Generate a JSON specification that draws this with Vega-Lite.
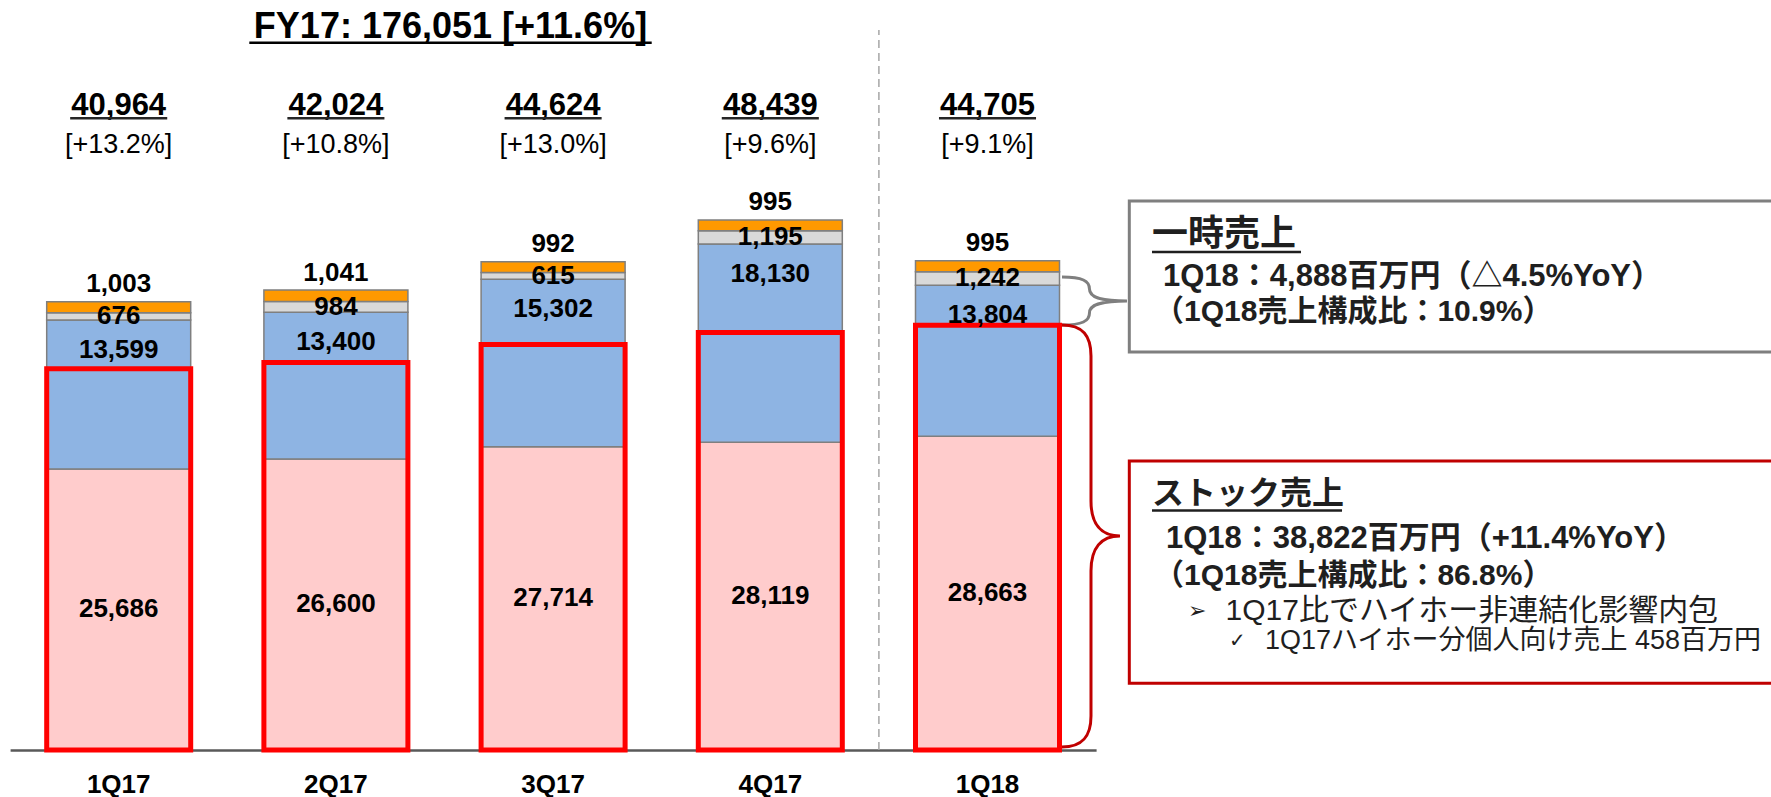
{
  "$schema": "https://vega.github.io/schema/vega-lite/v6.json",
  "width": 1771,
  "height": 750,
  "autosize": {"type": "none"},
  "padding": {"left": 0, "top": 0, "right": 0, "bottom": 47},
  "background": "#FFFFFF",
  "config": {"view": {"stroke": null}},
  "datasets": {
    "segments": [
      {"quarter": "1Q17", "seg": "seg1", "value": 25686},
      {"quarter": "1Q17", "seg": "seg2", "value": 13599},
      {"quarter": "1Q17", "seg": "seg3", "value": 676},
      {"quarter": "1Q17", "seg": "seg4", "value": 1003},
      {"quarter": "2Q17", "seg": "seg1", "value": 26600},
      {"quarter": "2Q17", "seg": "seg2", "value": 13400},
      {"quarter": "2Q17", "seg": "seg3", "value": 984},
      {"quarter": "2Q17", "seg": "seg4", "value": 1041},
      {"quarter": "3Q17", "seg": "seg1", "value": 27714},
      {"quarter": "3Q17", "seg": "seg2", "value": 15302},
      {"quarter": "3Q17", "seg": "seg3", "value": 615},
      {"quarter": "3Q17", "seg": "seg4", "value": 992},
      {"quarter": "4Q17", "seg": "seg1", "value": 28119},
      {"quarter": "4Q17", "seg": "seg2", "value": 18130},
      {"quarter": "4Q17", "seg": "seg3", "value": 1195},
      {"quarter": "4Q17", "seg": "seg4", "value": 995},
      {"quarter": "1Q18", "seg": "seg1", "value": 28663},
      {"quarter": "1Q18", "seg": "seg2", "value": 13804},
      {"quarter": "1Q18", "seg": "seg3", "value": 1242},
      {"quarter": "1Q18", "seg": "seg4", "value": 995}
    ],
    "totals": [
      {"quarter": "1Q17", "total": 40964, "yoy": "[+13.2%]", "stock": 34849},
      {"quarter": "2Q17", "total": 42024, "yoy": "[+10.8%]", "stock": 35400},
      {"quarter": "3Q17", "total": 44624, "yoy": "[+13.0%]", "stock": 37055},
      {"quarter": "4Q17", "total": 48439, "yoy": "[+9.6%]", "stock": 38150},
      {"quarter": "1Q18", "total": 44705, "yoy": "[+9.1%]", "stock": 38822}
    ]
  },
  "layer": [
    {
      "layer": [
        {
          "data": {"name": "segments"},
          "transform": [{"stack": "value", "groupby": ["quarter"], "sort": [{"field": "seg", "order": "ascending"}], "as": ["v0", "v1"]}],
          "mark": {"type": "bar", "stroke": "#7F7F7F", "strokeWidth": 1.5},
          "encoding": {
            "x": {
              "field": "quarter", "type": "nominal", "sort": null,
              "scale": {"type": "band", "domain": ["1Q17", "2Q17", "3Q17", "4Q17", "1Q18"], "range": [10.1, 1096.1], "paddingInner": 0.337, "paddingOuter": 0.1685},
              "axis": {"title": null, "ticks": false, "tickSize": 0, "grid": false, "domainColor": "#595959", "domainWidth": 2.5, "labelFont": "Liberation Sans", "labelFontWeight": "bold", "labelFontSize": 26, "labelColor": "#000000", "labelPadding": 34, "labelBaseline": "middle", "labelAngle": 0}
            },
            "y": {"field": "v0", "type": "quantitative", "scale": {"domain": [0, 68535], "nice": false, "zero": false}, "axis": null},
            "y2": {"field": "v1"},
            "color": {"field": "seg", "type": "nominal", "scale": {"domain": ["seg1", "seg2", "seg3", "seg4"], "range": ["#FFCCCC", "#8EB4E3", "#D9D9D9", "#FF9900"]}, "legend": null}
          }
        },
        {
          "data": {"name": "totals"},
          "mark": {"type": "bar", "fill": "#FFFFFF", "fillOpacity": 0, "stroke": "#FF0000", "strokeWidth": 5},
          "encoding": {
            "x": {"field": "quarter", "type": "nominal", "sort": null},
            "y": {"field": "stock", "type": "quantitative", "axis": null}
          }
        },
        {
          "data": {"name": "segments"},
          "mark": {"type": "text", "font": "Liberation Sans", "fontWeight": "bold", "fontSize": 26, "baseline": "middle", "align": "center", "color": "#000000"},
          "encoding": {
            "x": {"field": "quarter", "type": "nominal", "sort": null},
            "y": {"field": "value", "type": "quantitative", "stack": "zero", "bandPosition": 0.5, "axis": null},
            "detail": {"field": "seg", "type": "nominal"},
            "order": {"field": "seg", "sort": "ascending"},
            "text": {"field": "value", "type": "quantitative", "format": ",d"},
            "opacity": {"condition": {"test": "datum.seg === 'seg1' || datum.seg === 'seg3'", "value": 1}, "value": 0}
          }
        },
        {
          "data": {"name": "segments"},
          "transform": [
            {"stack": "value", "groupby": ["quarter"], "sort": [{"field": "seg", "order": "ascending"}], "as": ["v0", "v1"]},
            {"filter": {"field": "seg", "equal": "seg2"}}
          ],
          "mark": {"type": "text", "font": "Liberation Sans", "fontWeight": "bold", "fontSize": 26, "baseline": "middle", "align": "center", "color": "#000000", "dy": 30},
          "encoding": {
            "x": {"field": "quarter", "type": "nominal", "sort": null},
            "y": {"field": "v1", "type": "quantitative", "axis": null},
            "text": {"field": "value", "type": "quantitative", "format": ",d"}
          }
        },
        {
          "data": {"name": "segments"},
          "transform": [
            {"stack": "value", "groupby": ["quarter"], "sort": [{"field": "seg", "order": "ascending"}], "as": ["v0", "v1"]},
            {"filter": {"field": "seg", "equal": "seg4"}}
          ],
          "mark": {"type": "text", "font": "Liberation Sans", "fontWeight": "bold", "fontSize": 26, "baseline": "middle", "align": "center", "color": "#000000", "dy": -17.5},
          "encoding": {
            "x": {"field": "quarter", "type": "nominal", "sort": null},
            "y": {"field": "v1", "type": "quantitative", "axis": null},
            "text": {"field": "value", "type": "quantitative", "format": ",d"}
          }
        },
        {
          "data": {"name": "totals"},
          "mark": {"type": "text", "font": "Liberation Sans", "fontWeight": "bold", "fontSize": 31, "baseline": "middle", "align": "center", "color": "#000000"},
          "encoding": {
            "x": {"field": "quarter", "type": "nominal", "sort": null},
            "y": {"datum": 58850, "type": "quantitative", "axis": null},
            "text": {"field": "total", "type": "quantitative", "format": ",d"}
          }
        },
        {
          "data": {"name": "totals"},
          "mark": {"type": "bar", "color": "#262626", "width": {"band": 0.674}},
          "encoding": {
            "x": {"field": "quarter", "type": "nominal", "sort": null},
            "y": {"datum": 57840, "type": "quantitative", "axis": null},
            "y2": {"datum": 57610}
          }
        },
        {
          "data": {"name": "totals"},
          "mark": {"type": "text", "font": "Liberation Sans", "fontSize": 27, "baseline": "middle", "align": "center", "color": "#000000"},
          "encoding": {
            "x": {"field": "quarter", "type": "nominal", "sort": null},
            "y": {"datum": 55285, "type": "quantitative", "axis": null},
            "text": {"field": "yoy", "type": "nominal"}
          }
        }
      ]
    },
    {
      "layer": [
        {
          "data": {"values": [{"label": "FY17: 176,051 [+11.6%]"}]},
          "mark": {"type": "text", "font": "Liberation Sans", "fontWeight": "bold", "fontSize": 36, "baseline": "middle", "align": "center", "color": "#000000"},
          "encoding": {
            "x": {"datum": 1.5276, "type": "quantitative", "scale": {"domain": [-0.5465, 7.6073], "nice": false, "zero": false}, "axis": null},
            "y": {"datum": 66047, "type": "quantitative", "axis": null},
            "text": {"field": "label", "type": "nominal"}
          }
        },
        {
          "data": {"values": [{"item": "title underline"}]},
          "mark": {"type": "rect", "color": "#000000"},
          "encoding": {
            "x": {"datum": 0.6013, "type": "quantitative", "axis": null},
            "x2": {"datum": 2.454},
            "y": {"datum": 64750, "type": "quantitative", "axis": null},
            "y2": {"datum": 64520}
          }
        },
        {
          "data": {"values": [{"item": "FY divider"}]},
          "mark": {"type": "rule", "stroke": "#A6A6A6", "strokeWidth": 1.5, "strokeDash": [8, 5]},
          "encoding": {
            "x": {"datum": 3.5, "type": "quantitative", "axis": null},
            "y": {"datum": 0, "type": "quantitative", "axis": null},
            "y2": {"datum": 65794}
          }
        },
        {
          "data": {"values": [{"item": "one-time box"}]},
          "mark": {"type": "rect", "fill": "#FFFFFF", "stroke": "#7F7F7F", "strokeWidth": 3},
          "encoding": {
            "x": {"datum": 4.6529, "type": "quantitative", "axis": null},
            "x2": {"datum": 7.7},
            "y": {"datum": 50168, "type": "quantitative", "axis": null},
            "y2": {"datum": 36369}
          }
        },
        {
          "data": {"values": [{"item": "stock box"}]},
          "mark": {"type": "rect", "fill": "#FFFFFF", "stroke": "#C00000", "strokeWidth": 3},
          "encoding": {
            "x": {"datum": 4.6529, "type": "quantitative", "axis": null},
            "x2": {"datum": 7.7},
            "y": {"datum": 26409, "type": "quantitative", "axis": null},
            "y2": {"datum": 6095}
          }
        },
        {
          "data": {"values": [{"item": "one-time brace"}]},
          "mark": {"type": "point", "filled": false, "opacity": 1, "stroke": "#7F7F7F", "strokeWidth": 3, "size": 4356, "shape": "M -0.985 -0.727 C -0.364 -0.727 -0.152 -0.606 -0.152 -0.364 C -0.152 -0.121 0.152 0 0.985 0 C 0.152 0 -0.152 0.121 -0.152 0.364 C -0.152 0.606 -0.364 0.727 -0.985 0.727"},
          "encoding": {
            "x": {"datum": 4.4926, "type": "quantitative", "axis": null},
            "y": {"datum": 41030, "type": "quantitative", "axis": null}
          }
        },
        {
          "data": {"values": [{"item": "stock brace"}]},
          "mark": {"type": "point", "filled": false, "opacity": 1, "stroke": "#C00000", "strokeWidth": 3, "size": 178084, "shape": "M -0.1374 -1 C -0.0379 -1 0 -0.9479 0 -0.8531 L 0 -0.1659 C 0 -0.0569 0.0474 0 0.1374 0 C 0.0474 0 0 0.0569 0 0.1659 L 0 0.8531 C 0 0.9479 -0.0379 1 -0.1374 1"},
          "encoding": {
            "x": {"datum": 4.4765, "type": "quantitative", "axis": null},
            "y": {"datum": 19555, "type": "quantitative", "axis": null}
          }
        },
        {
          "data": {"values": [{"label": "一時売上"}]},
          "mark": {"type": "text", "font": "Liberation Sans, Noto Sans CJK JP", "fontWeight": "bold", "fontSize": 36, "baseline": "middle", "align": "left", "color": "#1F1F1F"},
          "encoding": {
            "x": {"datum": 4.7574, "type": "quantitative", "axis": null},
            "y": {"datum": 47061, "type": "quantitative", "axis": null},
            "text": {"field": "label", "type": "nominal"}
          }
        },
        {
          "data": {"values": [{"item": "header underline"}]},
          "mark": {"type": "rect", "color": "#1F1F1F"},
          "encoding": {
            "x": {"datum": 4.7574, "type": "quantitative", "axis": null},
            "x2": {"datum": 5.4434},
            "y": {"datum": 45620, "type": "quantitative", "axis": null},
            "y2": {"datum": 45390}
          }
        },
        {
          "data": {"values": [{"label": "1Q18：4,888百万円（△4.5%YoY）"}]},
          "mark": {"type": "text", "font": "Liberation Sans, Noto Sans CJK JP", "fontWeight": "bold", "fontSize": 31, "baseline": "middle", "align": "left", "color": "#1F1F1F"},
          "encoding": {
            "x": {"datum": 4.808, "type": "quantitative", "axis": null},
            "y": {"datum": 43223, "type": "quantitative", "axis": null},
            "text": {"field": "label", "type": "nominal"}
          }
        },
        {
          "data": {"values": [{"label": "（1Q18売上構成比：10.9%）"}]},
          "mark": {"type": "text", "font": "Liberation Sans, Noto Sans CJK JP", "fontWeight": "bold", "fontSize": 30, "baseline": "middle", "align": "left", "color": "#1F1F1F"},
          "encoding": {
            "x": {"datum": 4.7666, "type": "quantitative", "axis": null},
            "y": {"datum": 40024, "type": "quantitative", "axis": null},
            "text": {"field": "label", "type": "nominal"}
          }
        },
        {
          "data": {"values": [{"label": "ストック売上"}]},
          "mark": {"type": "text", "font": "Liberation Sans, Noto Sans CJK JP", "fontWeight": "bold", "fontSize": 32, "baseline": "middle", "align": "left", "color": "#1F1F1F"},
          "encoding": {
            "x": {"datum": 4.7574, "type": "quantitative", "axis": null},
            "y": {"datum": 23430, "type": "quantitative", "axis": null},
            "text": {"field": "label", "type": "nominal"}
          }
        },
        {
          "data": {"values": [{"item": "header underline"}]},
          "mark": {"type": "rect", "color": "#1F1F1F"},
          "encoding": {
            "x": {"datum": 4.7574, "type": "quantitative", "axis": null},
            "x2": {"datum": 5.6323},
            "y": {"datum": 22000, "type": "quantitative", "axis": null},
            "y2": {"datum": 21770}
          }
        },
        {
          "data": {"values": [{"label": "1Q18：38,822百万円（+11.4%YoY）"}]},
          "mark": {"type": "text", "font": "Liberation Sans, Noto Sans CJK JP", "fontWeight": "bold", "fontSize": 31, "baseline": "middle", "align": "left", "color": "#1F1F1F"},
          "encoding": {
            "x": {"datum": 4.8218, "type": "quantitative", "axis": null},
            "y": {"datum": 19281, "type": "quantitative", "axis": null},
            "text": {"field": "label", "type": "nominal"}
          }
        },
        {
          "data": {"values": [{"label": "（1Q18売上構成比：86.8%）"}]},
          "mark": {"type": "text", "font": "Liberation Sans, Noto Sans CJK JP", "fontWeight": "bold", "fontSize": 30, "baseline": "middle", "align": "left", "color": "#1F1F1F"},
          "encoding": {
            "x": {"datum": 4.7666, "type": "quantitative", "axis": null},
            "y": {"datum": 15900, "type": "quantitative", "axis": null},
            "text": {"field": "label", "type": "nominal"}
          }
        },
        {
          "data": {"values": [{"label": "➢"}]},
          "mark": {"type": "text", "font": "DejaVu Sans", "fontSize": 22, "baseline": "middle", "align": "left", "color": "#1F1F1F"},
          "encoding": {
            "x": {"datum": 4.9232, "type": "quantitative", "axis": null},
            "y": {"datum": 12702, "type": "quantitative", "axis": null},
            "text": {"field": "label", "type": "nominal"}
          }
        },
        {
          "data": {"values": [{"label": "1Q17比でハイホー非連結化影響内包"}]},
          "mark": {"type": "text", "font": "Liberation Sans, Noto Sans CJK JP", "fontSize": 30, "baseline": "middle", "align": "left", "color": "#1F1F1F"},
          "encoding": {
            "x": {"datum": 5.0958, "type": "quantitative", "axis": null},
            "y": {"datum": 12702, "type": "quantitative", "axis": null},
            "text": {"field": "label", "type": "nominal"}
          }
        },
        {
          "data": {"values": [{"label": "✓"}]},
          "mark": {"type": "text", "font": "DejaVu Sans", "fontSize": 20, "baseline": "middle", "align": "left", "color": "#1F1F1F"},
          "encoding": {
            "x": {"datum": 5.112, "type": "quantitative", "axis": null},
            "y": {"datum": 9915, "type": "quantitative", "axis": null},
            "text": {"field": "label", "type": "nominal"}
          }
        },
        {
          "data": {"values": [{"label": "1Q17ハイホー分個人向け売上 458百万円"}]},
          "mark": {"type": "text", "font": "Liberation Sans, Noto Sans CJK JP", "fontSize": 27, "baseline": "middle", "align": "left", "color": "#1F1F1F"},
          "encoding": {
            "x": {"datum": 5.2776, "type": "quantitative", "axis": null},
            "y": {"datum": 9915, "type": "quantitative", "axis": null},
            "text": {"field": "label", "type": "nominal"}
          }
        }
      ]
    }
  ],
  "resolve": {"scale": {"x": "independent"}}
}
